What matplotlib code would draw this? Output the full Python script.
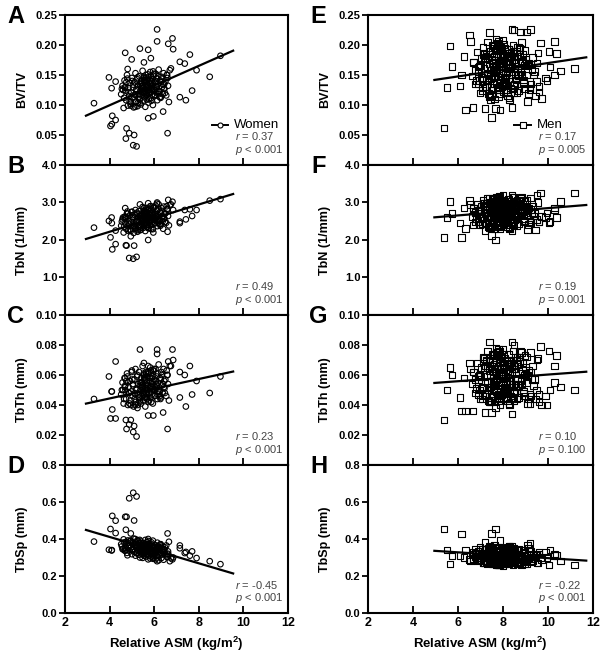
# -*- coding: utf-8 -*-
import numpy as np
import matplotlib
matplotlib.use('Agg')
import matplotlib.pyplot as plt

plt.rcParams['font.family'] = ['Liberation Sans', 'DejaVu Sans']
plt.rcParams['mathtext.fontset'] = 'custom'
plt.rcParams['mathtext.rm'] = 'Liberation Sans'
plt.rcParams['mathtext.it'] = 'Liberation Sans:italic'
plt.rcParams['mathtext.bf'] = 'Liberation Sans:bold'

# ---------------- women (circles) ----------------
women_asm = [
    3.30, 3.97, 4.09, 4.27, 4.04, 4.12, 4.27, 4.70, 4.81, 4.99,
    4.76, 4.73, 4.88, 5.06, 5.21, 5.36, 5.54, 5.73, 5.85, 6.13,
    6.13, 6.63, 6.82, 6.85, 6.60, 7.15, 7.37, 7.60, 7.90, 7.70,
    7.15, 7.42, 8.49, 8.97, 5.73, 5.96, 6.40, 5.10, 4.10, 4.95,
    4.52, 4.58, 4.63, 4.67, 4.71, 4.74, 4.78, 4.82, 4.85, 4.88,
    4.91, 4.94, 4.97, 5.00, 5.03, 5.05, 5.08, 5.11, 5.13, 5.16,
    5.18, 5.21, 5.23, 5.25, 5.28, 5.30, 5.32, 5.34, 5.36, 5.38,
    5.40, 5.42, 5.44, 5.46, 5.48, 5.50, 5.51, 5.53, 5.55, 5.57,
    5.58, 5.60, 5.61, 5.63, 5.64, 5.66, 5.67, 5.69, 5.70, 5.72,
    5.74, 5.75, 5.77, 5.79, 5.80, 5.82, 5.84, 5.86, 5.88, 5.90,
    5.92, 5.94, 5.96, 5.98, 6.01, 6.03, 6.06, 6.08, 6.11, 6.14,
    6.17, 6.20, 6.23, 6.26, 6.29, 6.32, 6.35, 6.38, 6.42, 6.46,
    6.50, 6.54, 6.58, 6.62, 6.66, 6.70, 4.60, 4.80, 5.15, 5.45,
    5.65, 5.85, 6.05, 6.25, 4.70, 5.35, 5.55, 5.95, 6.15, 6.45,
    4.55, 4.65, 4.75, 4.85, 4.95, 5.05, 5.15, 5.25, 5.35, 5.45,
    5.52, 5.58, 5.62, 5.68, 5.72, 5.78, 5.83, 5.87, 5.93, 5.97,
    6.02, 6.07, 6.12, 6.18, 6.22, 6.28, 6.33, 6.40, 6.48, 6.56,
    4.68, 4.90, 5.02, 5.20, 5.31, 5.41, 5.49, 5.56, 5.64, 5.71,
    5.76, 5.81, 5.89, 5.99, 6.09, 6.19, 6.30, 6.44, 6.60, 6.75,
    5.26, 5.39, 5.47, 5.59, 5.68, 5.79, 5.91, 6.04, 5.12, 5.53]
women_bvtv = [
    .103, .146, .128, .139, .065, .082, .075, .187, .160, .176,
    .061, .044, .053, .033, .031, .194, .171, .192, .178, .226,
    .206, .202, .211, .193, .053, .172, .169, .184, .158, .124,
    .113, .108, .147, .182, .078, .081, .089, .050, .068, .105,
    .118, .132, .095, .141, .124, .108, .150, .099, .128, .115,
    .137, .102, .121, .145, .112, .129, .096, .138, .117, .153,
    .106, .126, .143, .098, .131, .119, .148, .110, .135, .123,
    .101, .140, .116, .129, .157, .107, .133, .121, .145, .113,
    .138, .097, .127, .150, .118, .134, .109, .142, .125, .131,
    .104, .146, .119, .136, .122, .155, .111, .128, .140, .117,
    .133, .100, .149, .126, .138, .115, .152, .121, .144, .108,
    .135, .159, .123, .141, .112, .147, .130, .118, .153, .127,
    .139, .116, .150, .132, .105, .158, .125, .144, .097, .136,
    .120, .148, .131, .113, .130, .103, .142, .156, .122, .135,
    .127, .112, .138, .121, .099, .134, .118, .146, .109, .131,
    .124, .140, .115, .129, .151, .120, .136, .107, .143, .126,
    .117, .139, .130, .148, .122, .113, .144, .134, .120, .150,
    .129, .106, .140, .125, .114, .137, .128, .119, .146, .133,
    .110, .141, .124, .152, .131, .118, .139, .127, .145, .161,
    .103, .132, .122, .142, .116, .130, .137, .125, .113, .147]
women_tbn = [
    2.33, 2.51, 2.60, 2.25, 2.07, 1.75, 1.89, 2.85, 2.70, 2.75,
    1.85, 1.86, 1.52, 1.50, 1.55, 2.95, 2.85, 2.98, 2.90, 3.00,
    2.97, 3.07, 3.02, 2.80, 2.22, 2.49, 2.80, 2.82, 2.80, 2.64,
    2.45, 2.55, 3.05, 3.09, 2.00, 2.20, 2.30, 1.85, 2.45, 2.10,
    2.38, 2.55, 2.20, 2.62, 2.45, 2.30, 2.71, 2.25, 2.50, 2.41,
    2.66, 2.28, 2.47, 2.75, 2.36, 2.58, 2.19, 2.68, 2.44, 2.80,
    2.33, 2.52, 2.73, 2.22, 2.61, 2.48, 2.77, 2.35, 2.64, 2.54,
    2.27, 2.70, 2.43, 2.57, 2.88, 2.32, 2.63, 2.49, 2.79, 2.40,
    2.69, 2.24, 2.56, 2.84, 2.46, 2.65, 2.34, 2.74, 2.53, 2.60,
    2.31, 2.82, 2.50, 2.67, 2.55, 2.90, 2.39, 2.59, 2.72, 2.47,
    2.63, 2.29, 2.86, 2.56, 2.70, 2.44, 2.92, 2.58, 2.78, 2.37,
    2.66, 2.95, 2.53, 2.75, 2.42, 2.85, 2.62, 2.50, 2.89, 2.57,
    2.71, 2.46, 2.83, 2.64, 2.39, 2.93, 2.60, 2.76, 2.30, 2.68,
    2.49, 2.81, 2.58, 2.43, 2.61, 2.26, 2.74, 2.87, 2.52, 2.69,
    2.49, 2.35, 2.60, 2.44, 2.24, 2.62, 2.41, 2.70, 2.31, 2.58,
    2.52, 2.68, 2.39, 2.55, 2.80, 2.47, 2.65, 2.29, 2.73, 2.56,
    2.45, 2.69, 2.60, 2.82, 2.51, 2.38, 2.78, 2.63, 2.48, 2.90,
    2.57, 2.27, 2.66, 2.50, 2.36, 2.64, 2.54, 2.43, 2.76, 2.61,
    2.33, 2.71, 2.52, 2.86, 2.62, 2.46, 2.72, 2.58, 2.81, 2.95,
    2.26, 2.59, 2.49, 2.74, 2.40, 2.57, 2.68, 2.53, 2.37, 2.77]
women_tbth = [
    .044, .059, .049, .069, .031, .037, .031, .058, .055, .062,
    .024, .030, .027, .022, .019, .077, .068, .066, .063, .077,
    .074, .069, .077, .070, .024, .062, .060, .066, .056, .047,
    .045, .039, .048, .059, .033, .033, .035, .026, .049, .030,
    .047, .055, .041, .058, .050, .044, .061, .040, .052, .048,
    .056, .043, .049, .063, .046, .053, .039, .057, .048, .064,
    .042, .051, .059, .038, .054, .047, .062, .045, .055, .050,
    .041, .058, .046, .052, .066, .043, .054, .049, .060, .045,
    .057, .039, .051, .062, .047, .055, .044, .059, .050, .053,
    .042, .061, .048, .056, .051, .065, .045, .052, .058, .047,
    .054, .041, .063, .050, .057, .046, .064, .051, .059, .044,
    .055, .067, .049, .058, .045, .062, .053, .048, .064, .051,
    .057, .046, .060, .054, .043, .066, .050, .059, .040, .055,
    .048, .061, .052, .046, .053, .042, .058, .063, .049, .056,
    .050, .044, .056, .048, .040, .054, .047, .060, .043, .053,
    .049, .057, .045, .051, .062, .048, .055, .042, .059, .051,
    .046, .056, .053, .061, .049, .044, .060, .054, .048, .063,
    .052, .041, .057, .050, .045, .055, .051, .047, .061, .053,
    .043, .058, .049, .064, .054, .047, .057, .052, .060, .066,
    .040, .053, .048, .059, .045, .052, .056, .050, .044, .061]
women_tbsp = [
    .386, .342, .338, .499, .454, .525, .432, .520, .380, .340,
    .520, .450, .620, .650, .630, .300, .310, .290, .330, .280,
    .300, .320, .290, .300, .430, .365, .324, .310, .297, .333,
    .350, .330, .280, .264, .400, .360, .330, .500, .340, .430,
    .372, .345, .398, .338, .360, .385, .325, .392, .352, .368,
    .333, .388, .356, .318, .375, .346, .402, .330, .362, .310,
    .381, .350, .322, .394, .340, .358, .315, .377, .336, .349,
    .386, .320, .364, .342, .298, .379, .334, .355, .312, .370,
    .328, .395, .347, .305, .366, .337, .383, .316, .351, .339,
    .389, .308, .361, .331, .348, .295, .374, .343, .318, .363,
    .335, .391, .300, .352, .322, .368, .290, .345, .312, .380,
    .330, .285, .350, .315, .372, .297, .338, .359, .288, .342,
    .318, .365, .302, .333, .385, .280, .347, .312, .400, .327,
    .358, .306, .340, .369, .337, .395, .320, .293, .354, .325,
    .360, .381, .343, .366, .392, .340, .368, .325, .378, .346,
    .352, .330, .370, .349, .315, .361, .337, .382, .322, .347,
    .364, .333, .344, .312, .356, .371, .318, .339, .355, .305,
    .349, .388, .341, .357, .376, .338, .350, .365, .320, .343,
    .374, .328, .353, .308, .337, .360, .326, .345, .316, .296,
    .390, .344, .358, .327, .369, .348, .334, .352, .371, .323]

# ---------------- men (squares) ----------------
men_asm = [
    5.37, 5.64, 5.52, 5.74, 6.08, 6.15, 6.26, 6.33, 6.66, 6.51,
    6.55, 7.39, 7.49, 7.20, 7.67, 7.86, 8.40, 8.40, 8.49, 8.78,
    9.04, 9.23, 9.67, 10.30, 10.04, 10.38, 10.56, 11.18, 10.08, 9.90,
    9.95, 9.20, 9.60, 9.70, 9.45, 9.52, 10.30,
    6.62, 6.70, 6.78, 6.85, 6.92, 6.98, 7.03, 7.08, 7.12, 7.16,
    7.20, 7.24, 7.28, 7.31, 7.34, 7.37, 7.40, 7.43, 7.46, 7.49,
    7.52, 7.54, 7.56, 7.58, 7.60, 7.62, 7.64, 7.66, 7.68, 7.70,
    7.72, 7.74, 7.76, 7.78, 7.80, 7.81, 7.83, 7.85, 7.86, 7.88,
    7.90, 7.91, 7.93, 7.95, 7.96, 7.98, 8.00, 8.01, 8.03, 8.05,
    8.07, 8.09, 8.11, 8.13, 8.15, 8.17, 8.19, 8.22, 8.25, 8.28,
    8.31, 8.34, 8.37, 8.40, 8.44, 8.48, 8.52, 8.56, 8.60, 8.65,
    8.70, 8.75, 8.80, 8.86, 8.92, 8.98, 9.05, 9.12, 9.20, 9.30,
    6.75, 6.95, 7.15, 7.35, 7.55, 7.75, 7.95, 8.15, 8.35, 8.55,
    8.75, 8.95, 9.15, 7.05, 7.25, 7.45, 7.65, 7.85, 8.05, 8.25,
    8.45, 8.65, 8.85, 7.50, 7.70, 7.90, 8.10, 8.30, 8.50, 7.80,
    7.60, 7.40, 8.20, 8.00, 7.72, 7.88, 8.08, 7.98, 7.62, 8.38,
    6.88, 7.18, 7.48, 7.78, 8.18, 8.58, 8.88, 9.08, 6.68, 9.28,
    6.82, 6.96, 7.10, 7.22, 7.32, 7.42, 7.51, 7.59, 7.67, 7.74,
    7.82, 7.89, 7.97, 8.04, 8.12, 8.21, 8.29, 8.36, 8.46, 8.54,
    8.62, 8.71, 8.79, 8.90, 9.00, 9.10, 9.22, 9.35, 9.48, 9.60,
    7.00, 7.13, 7.27, 7.38, 7.47, 7.57, 7.69, 7.79, 7.92, 8.02,
    8.14, 8.24, 8.33, 8.43, 8.53, 8.68, 8.83, 8.96, 9.14, 9.40,
    7.36, 7.53, 7.71, 7.84, 7.99, 8.11, 8.27, 8.41, 8.63, 8.91,
    6.90, 7.08, 7.30, 7.44, 7.63, 7.77, 7.94, 8.06, 8.19, 8.32,
    8.49, 8.67, 8.82, 9.02, 9.25, 9.55, 7.58, 7.83, 8.16, 8.47]
men_bvtv = [
    .062, .198, .129, .164, .132, .150, .181, .092, .096, .217,
    .206, .221, .079, .094, .094, .092, .096, .226, .225, .222,
    .222, .226, .203, .206, .189, .186, .157, .161, .163, .145,
    .141, .126, .122, .111, .115, .170, .150,
    .148, .172, .135, .188, .156, .120, .178, .143, .196, .161,
    .130, .185, .152, .205, .140, .168, .113, .190, .158, .176,
    .125, .199, .163, .145, .182, .110, .171, .154, .210, .137,
    .166, .192, .128, .180, .149, .201, .160, .118, .175, .186,
    .142, .197, .165, .131, .183, .153, .208, .170, .122, .179,
    .147, .194, .162, .136, .187, .157, .115, .174, .193, .139,
    .168, .128, .181, .151, .200, .133, .176, .145, .189, .160,
    .124, .184, .155, .173, .138, .191, .150, .167, .128, .179,
    .158, .141, .186, .119, .171, .203, .164, .133, .180, .152,
    .195, .127, .169, .146, .182, .108, .175, .198, .139, .161,
    .187, .150, .172, .129, .193, .166, .144, .178, .134, .206,
    .157, .185, .121, .174, .163, .190, .137, .169, .148, .180,
    .135, .177, .116, .199, .153, .142, .185, .165, .171, .159,
    .141, .165, .128, .179, .153, .117, .170, .136, .192, .158,
    .125, .183, .147, .201, .134, .162, .109, .188, .155, .172,
    .121, .196, .160, .142, .177, .106, .168, .150, .139, .131,
    .166, .184, .131, .175, .144, .198, .157, .114, .171, .182,
    .138, .193, .163, .127, .180, .149, .204, .167, .119, .156,
    .145, .190, .159, .133, .185, .154, .112, .172, .197, .136,
    .163, .124, .178, .148, .195, .130, .174, .143, .186, .161,
    .121, .181, .152, .169, .135, .187, .148, .164, .126, .176]
men_tbn = [
    2.07, 3.02, 2.60, 2.71, 2.45, 2.07, 2.85, 2.30, 2.40, 3.05,
    2.95, 3.10, 2.12, 2.25, 2.00, 2.30, 2.25, 3.20, 3.15, 3.10,
    3.05, 3.12, 3.25, 2.80, 2.47, 2.60, 3.02, 3.25, 2.50, 2.60,
    2.72, 2.55, 2.48, 2.62, 2.27, 3.20, 2.85,
    2.62, 2.85, 2.48, 2.95, 2.70, 2.40, 2.90, 2.58, 3.05, 2.75,
    2.45, 2.98, 2.66, 3.10, 2.55, 2.82, 2.33, 3.00, 2.72, 2.88,
    2.42, 3.08, 2.78, 2.60, 2.93, 2.30, 2.84, 2.68, 3.15, 2.52,
    2.80, 3.02, 2.47, 2.91, 2.63, 3.12, 2.76, 2.38, 2.87, 2.97,
    2.57, 3.06, 2.79, 2.50, 2.94, 2.69, 3.18, 2.83, 2.44, 2.89,
    2.61, 3.04, 2.74, 2.53, 2.96, 2.71, 2.36, 2.86, 3.09, 2.56,
    2.81, 2.46, 2.92, 2.65, 3.14, 2.54, 2.88, 2.62, 3.01, 2.77,
    2.43, 2.95, 2.70, 2.84, 2.51, 3.03, 2.67, 2.80, 2.49, 2.90,
    2.73, 2.59, 2.99, 2.35, 2.83, 3.11, 2.78, 2.52, 2.94, 2.66,
    3.07, 2.48, 2.85, 2.60, 2.97, 2.32, 2.87, 3.16, 2.55, 2.76,
    2.98, 2.64, 2.82, 2.45, 3.06, 2.79, 2.58, 2.91, 2.53, 3.13,
    2.71, 2.96, 2.41, 2.86, 2.75, 3.00, 2.57, 2.81, 2.63, 2.92,
    2.50, 2.89, 2.37, 3.10, 2.68, 2.61, 2.95, 2.77, 2.84, 2.74,
    2.58, 2.80, 2.44, 2.92, 2.66, 2.36, 2.86, 2.54, 3.02, 2.72,
    2.42, 2.95, 2.62, 3.06, 2.51, 2.78, 2.30, 2.97, 2.68, 2.84,
    2.39, 3.04, 2.74, 2.57, 2.90, 2.28, 2.81, 2.64, 2.55, 2.48,
    2.76, 2.98, 2.45, 2.88, 2.60, 3.09, 2.73, 2.35, 2.83, 2.94,
    2.53, 3.03, 2.77, 2.47, 2.91, 2.65, 3.15, 2.79, 2.41, 2.70,
    2.59, 3.01, 2.71, 2.50, 2.93, 2.67, 2.34, 2.82, 3.07, 2.52,
    2.78, 2.43, 2.89, 2.61, 3.11, 2.50, 2.85, 2.59, 2.98, 2.74,
    2.40, 2.92, 2.67, 2.81, 2.47, 3.00, 2.64, 2.77, 2.46, 2.87]
men_tbth = [
    .030, .065, .050, .060, .045, .036, .058, .036, .036, .068,
    .064, .082, .035, .035, .038, .040, .034, .082, .080, .076,
    .072, .075, .079, .066, .076, .073, .052, .050, .050, .046,
    .040, .041, .042, .040, .044, .070, .055,
    .054, .062, .048, .068, .057, .044, .065, .052, .072, .059,
    .047, .070, .055, .076, .050, .063, .042, .071, .056, .066,
    .046, .074, .060, .051, .067, .043, .064, .055, .078, .049,
    .061, .073, .046, .066, .053, .075, .058, .044, .064, .069,
    .051, .072, .060, .047, .068, .055, .077, .062, .045, .065,
    .052, .071, .059, .048, .069, .056, .043, .063, .074, .050,
    .061, .046, .067, .054, .076, .049, .064, .052, .070, .058,
    .045, .069, .056, .063, .048, .073, .055, .060, .047, .066,
    .057, .050, .071, .043, .062, .075, .059, .049, .068, .054,
    .072, .046, .063, .051, .069, .042, .064, .076, .049, .058,
    .070, .053, .061, .045, .074, .060, .050, .067, .048, .077,
    .056, .069, .044, .064, .058, .071, .051, .061, .053, .066,
    .047, .065, .043, .073, .055, .052, .068, .059, .062, .057,
    .051, .060, .046, .066, .055, .042, .063, .050, .070, .057,
    .045, .068, .053, .074, .048, .061, .040, .069, .054, .064,
    .044, .072, .058, .049, .065, .041, .062, .053, .050, .047,
    .059, .071, .047, .064, .052, .073, .056, .043, .062, .067,
    .049, .070, .058, .045, .066, .053, .075, .060, .044, .057,
    .050, .069, .057, .046, .067, .054, .041, .061, .072, .048,
    .059, .044, .065, .052, .074, .047, .062, .050, .068, .056,
    .043, .067, .054, .061, .046, .071, .053, .058, .045, .064]
men_tbsp = [
    .455, .265, .340, .308, .310, .428, .300, .340, .330, .290,
    .280, .300, .430, .380, .455, .393, .360, .270, .280, .290,
    .265, .275, .300, .310, .260, .310, .280, .260, .340, .330,
    .300, .375, .320, .290, .310, .270, .320,
    .318, .295, .342, .280, .308, .355, .288, .325, .272, .302,
    .345, .278, .312, .265, .332, .292, .360, .275, .306, .285,
    .338, .268, .299, .322, .282, .365, .290, .310, .260, .335,
    .296, .270, .340, .284, .315, .262, .303, .350, .287, .276,
    .326, .266, .298, .344, .281, .309, .258, .293, .348, .283,
    .320, .268, .301, .337, .278, .305, .356, .289, .264, .327,
    .294, .342, .279, .313, .262, .331, .286, .316, .271, .300,
    .346, .274, .308, .288, .329, .266, .311, .296, .339, .281,
    .302, .323, .273, .352, .290, .261, .299, .334, .277, .310,
    .267, .340, .291, .319, .276, .358, .286, .263, .328, .297,
    .279, .315, .293, .343, .268, .301, .324, .282, .336, .259,
    .306, .274, .349, .287, .297, .271, .330, .292, .314, .284,
    .333, .280, .353, .265, .307, .318, .276, .298, .289, .302,
    .322, .298, .345, .283, .311, .358, .291, .328, .275, .305,
    .348, .281, .315, .268, .335, .295, .363, .278, .309, .288,
    .341, .271, .302, .325, .285, .368, .293, .313, .318, .330,
    .299, .273, .343, .287, .318, .265, .306, .353, .290, .279,
    .329, .269, .301, .347, .284, .312, .261, .296, .351, .304,
    .323, .271, .304, .340, .281, .308, .359, .292, .267, .330,
    .297, .345, .282, .316, .265, .334, .289, .319, .274, .303,
    .349, .277, .311, .291, .332, .269, .314, .299, .342, .286]

# regression lines: (slope, intercept)
women_fit = [(0.01642, 0.0339), (0.1818, 1.4925), (0.00324, 0.0314), (-0.03565, 0.5538)]
men_fit = [(0.005585, 0.1141), (0.04874, 2.363), (0.00111, 0.0492), (-0.00785, 0.375)]
women_fit_range = (2.94, 9.54)
men_fit_range = (4.95, 11.70)

women_stats = [('0.37', '<', '0.001'), ('0.49', '<', '0.001'), ('0.23', '<', '0.001'), ('-0.45', '<', '0.001')]
men_stats = [('0.17', '=', '0.005'), ('0.19', '=', '0.001'), ('0.10', '=', '0.100'), ('-0.22', '<', '0.001')]

ylabels = ['BV/TV', 'TbN (1/mm)', 'TbTh (mm)', 'TbSp (mm)']
ylims = [0.25, 4.0, 0.10, 0.8]
yticks = [[0.05, 0.10, 0.15, 0.20, 0.25],
          [1.0, 2.0, 3.0, 4.0],
          [0.02, 0.04, 0.06, 0.08, 0.10],
          [0.0, 0.2, 0.4, 0.6, 0.8]]
ytickfmt = ['%.2f', '%.1f', '%.2f', '%.1f']
letters = [['A', 'B', 'C', 'D'], ['E', 'F', 'G', 'H']]

fig = plt.figure(figsize=(6.04, 6.57), dpi=100)
W, H = 604.0, 657.0
col_left = [65, 368]
col_width = [223, 225]
tops = [15, 165, 315, 465]
bottoms = [165, 315, 465, 613]

groups = [
    (women_asm, [women_bvtv, women_tbn, women_tbth, women_tbsp], women_fit, women_fit_range, women_stats, 'o', 16, 'Women'),
    (men_asm, [men_bvtv, men_tbn, men_tbth, men_tbsp], men_fit, men_fit_range, men_stats, 's', 22, 'Men'),
]

for c, (xs, ys_list, fits, frange, stats, mk, ms, name) in enumerate(groups):
    for r in range(4):
        ax = fig.add_axes([col_left[c] / W, 1 - bottoms[r] / H,
                           col_width[c] / W, (bottoms[r] - tops[r]) / H])
        ax.scatter(xs, ys_list[r], s=ms, marker=mk, facecolors='none',
                   edgecolors='black', linewidths=0.8, zorder=2)
        k, b = fits[r]
        fx = np.array(frange)
        ax.plot(fx, k * fx + b, color='black', lw=1.6, zorder=3)

        ax.set_xlim(2, 12)
        ax.set_ylim(0, ylims[r])
        ax.set_xticks([2, 4, 6, 8, 10, 12])
        ax.set_yticks(yticks[r])
        ax.set_yticklabels([ytickfmt[r] % v for v in yticks[r]])
        ax.tick_params(axis='x', direction='in', length=5, width=1.3, labelsize=9, pad=3)
        ax.tick_params(axis='y', direction='out', length=4, width=1.3, labelsize=8, pad=1.5)
        for lab in ax.get_xticklabels() + ax.get_yticklabels():
            lab.set_fontweight('bold')
        for sp in ax.spines.values():
            sp.set_linewidth(1.5)
        if r < 3:
            ax.tick_params(axis='x', labelbottom=False)
        else:
            ax.set_xlabel('Relative ASM (kg/m$^\\mathbf{2}$)', fontsize=9.5, fontweight='bold', labelpad=4)

        ax.set_ylabel(ylabels[r], fontsize=9, fontweight='bold')
        ax.yaxis.set_label_coords(-0.165, 0.5)

        ax.text(-0.22, 0.99, letters[c][r], transform=ax.transAxes, fontsize=17,
                fontweight='bold', ha='center', va='center')

        tx = 0.762 if c == 0 else 0.755
        rv, op, pv = stats[r]
        ax.text(tx, 0.19, '$r$ = ' + rv, transform=ax.transAxes, fontsize=8,
                color='#444444', ha='left', va='center')
        ax.text(tx, 0.10, '$p$ ' + op + ' ' + pv, transform=ax.transAxes, fontsize=8,
                color='#444444', ha='left', va='center')
        if r == 0:
            ax.plot([tx - 0.105, tx - 0.03], [0.27, 0.27], transform=ax.transAxes,
                    color='black', lw=1.4, clip_on=False)
            ax.scatter([tx - 0.0675], [0.27], transform=ax.transAxes, s=ms * 0.8,
                       marker=mk, facecolors='white', edgecolors='black', linewidths=0.8, zorder=4)
            ax.text(tx - 0.005, 0.27, name, transform=ax.transAxes, fontsize=9.5,
                    ha='left', va='center')

fig.savefig('out.png', dpi=100)
